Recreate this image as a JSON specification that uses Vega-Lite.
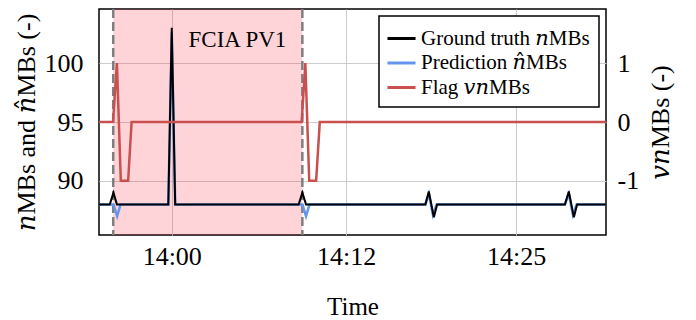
{
  "$schema": "https://vega.github.io/schema/vega-lite/v6.json",
  "width": 507,
  "height": 226,
  "autosize": {"type": "none"},
  "padding": {"left": 99, "top": 9, "right": 90, "bottom": 85},
  "background": "white",
  "datasets": {
    "counts": [
      {"series": "Ground truth 𝑛MBs", "time": "2023-06-01T13:54:23", "value": 88},
      {"series": "Ground truth 𝑛MBs", "time": "2023-06-01T13:55:10", "value": 88},
      {"series": "Ground truth 𝑛MBs", "time": "2023-06-01T13:55:26", "value": 89},
      {"series": "Ground truth 𝑛MBs", "time": "2023-06-01T13:55:41", "value": 88},
      {"series": "Ground truth 𝑛MBs", "time": "2023-06-01T13:59:25", "value": 88},
      {"series": "Ground truth 𝑛MBs", "time": "2023-06-01T13:59:40", "value": 103},
      {"series": "Ground truth 𝑛MBs", "time": "2023-06-01T13:59:55", "value": 88},
      {"series": "Ground truth 𝑛MBs", "time": "2023-06-01T14:08:53", "value": 88},
      {"series": "Ground truth 𝑛MBs", "time": "2023-06-01T14:09:09", "value": 89},
      {"series": "Ground truth 𝑛MBs", "time": "2023-06-01T14:09:25", "value": 88},
      {"series": "Ground truth 𝑛MBs", "time": "2023-06-01T14:18:05", "value": 88},
      {"series": "Ground truth 𝑛MBs", "time": "2023-06-01T14:18:20", "value": 89.1},
      {"series": "Ground truth 𝑛MBs", "time": "2023-06-01T14:18:42", "value": 86.9},
      {"series": "Ground truth 𝑛MBs", "time": "2023-06-01T14:18:56", "value": 88},
      {"series": "Ground truth 𝑛MBs", "time": "2023-06-01T14:28:13", "value": 88},
      {"series": "Ground truth 𝑛MBs", "time": "2023-06-01T14:28:30", "value": 89.1},
      {"series": "Ground truth 𝑛MBs", "time": "2023-06-01T14:28:52", "value": 86.9},
      {"series": "Ground truth 𝑛MBs", "time": "2023-06-01T14:29:06", "value": 88},
      {"series": "Ground truth 𝑛MBs", "time": "2023-06-01T14:31:12", "value": 88},
      {"series": "Prediction 𝑛̂MBs", "time": "2023-06-01T13:54:23", "value": 88},
      {"series": "Prediction 𝑛̂MBs", "time": "2023-06-01T13:55:26", "value": 88},
      {"series": "Prediction 𝑛̂MBs", "time": "2023-06-01T13:55:42", "value": 87},
      {"series": "Prediction 𝑛̂MBs", "time": "2023-06-01T13:55:57", "value": 88},
      {"series": "Prediction 𝑛̂MBs", "time": "2023-06-01T13:59:25", "value": 88},
      {"series": "Prediction 𝑛̂MBs", "time": "2023-06-01T13:59:40", "value": 102.6},
      {"series": "Prediction 𝑛̂MBs", "time": "2023-06-01T13:59:55", "value": 88},
      {"series": "Prediction 𝑛̂MBs", "time": "2023-06-01T14:09:09", "value": 88},
      {"series": "Prediction 𝑛̂MBs", "time": "2023-06-01T14:09:25", "value": 87},
      {"series": "Prediction 𝑛̂MBs", "time": "2023-06-01T14:09:40", "value": 88},
      {"series": "Prediction 𝑛̂MBs", "time": "2023-06-01T14:18:05", "value": 88},
      {"series": "Prediction 𝑛̂MBs", "time": "2023-06-01T14:18:20", "value": 88.9},
      {"series": "Prediction 𝑛̂MBs", "time": "2023-06-01T14:18:38", "value": 87.1},
      {"series": "Prediction 𝑛̂MBs", "time": "2023-06-01T14:18:54", "value": 88},
      {"series": "Prediction 𝑛̂MBs", "time": "2023-06-01T14:28:13", "value": 88},
      {"series": "Prediction 𝑛̂MBs", "time": "2023-06-01T14:28:30", "value": 88.9},
      {"series": "Prediction 𝑛̂MBs", "time": "2023-06-01T14:28:48", "value": 87.1},
      {"series": "Prediction 𝑛̂MBs", "time": "2023-06-01T14:29:04", "value": 88},
      {"series": "Prediction 𝑛̂MBs", "time": "2023-06-01T14:31:12", "value": 88}
    ],
    "flag": [
      {"series": "Flag 𝑣𝑛MBs", "time": "2023-06-01T13:54:23", "value": 0},
      {"series": "Flag 𝑣𝑛MBs", "time": "2023-06-01T13:55:24", "value": 0},
      {"series": "Flag 𝑣𝑛MBs", "time": "2023-06-01T13:55:41", "value": 1},
      {"series": "Flag 𝑣𝑛MBs", "time": "2023-06-01T13:55:58", "value": -1},
      {"series": "Flag 𝑣𝑛MBs", "time": "2023-06-01T13:56:30", "value": -1},
      {"series": "Flag 𝑣𝑛MBs", "time": "2023-06-01T13:56:45", "value": 0},
      {"series": "Flag 𝑣𝑛MBs", "time": "2023-06-01T14:09:06", "value": 0},
      {"series": "Flag 𝑣𝑛MBs", "time": "2023-06-01T14:09:22", "value": 1},
      {"series": "Flag 𝑣𝑛MBs", "time": "2023-06-01T14:09:39", "value": -1},
      {"series": "Flag 𝑣𝑛MBs", "time": "2023-06-01T14:10:09", "value": -1},
      {"series": "Flag 𝑣𝑛MBs", "time": "2023-06-01T14:10:25", "value": 0},
      {"series": "Flag 𝑣𝑛MBs", "time": "2023-06-01T14:31:12", "value": 0}
    ],
    "windows": [
      {"label": "FCIA PV1", "time": "2023-06-01T13:55:25", "time_end": "2023-06-01T14:09:09"}
    ]
  },
  "encoding": {
    "x": {
      "field": "time",
      "type": "temporal",
      "scale": {
        "domain": [
          {"year": 2023, "month": 6, "date": 1, "hours": 13, "minutes": 54, "seconds": 23},
          {"year": 2023, "month": 6, "date": 1, "hours": 14, "minutes": 31, "seconds": 12}
        ],
        "nice": false
      },
      "axis": {
        "title": "Time",
        "titleFontSize": 25,
        "values": [
          {"year": 2023, "month": 6, "date": 1, "hours": 13, "minutes": 59, "seconds": 40},
          {"year": 2023, "month": 6, "date": 1, "hours": 14, "minutes": 12, "seconds": 20},
          {"year": 2023, "month": 6, "date": 1, "hours": 14, "minutes": 24, "seconds": 40}
        ],
        "labelExpr": "timeFormat(time(datum.value) + 30000, '%H:%M')",
        "grid": true,
        "labelPadding": 8,
        "titlePadding": 25
      }
    }
  },
  "layer": [
    {
      "layer": [
        {
          "data": {"name": "windows"},
          "mark": {"type": "rect", "color": "#ff2a3a", "opacity": 0.2},
          "encoding": {"x2": {"field": "time_end"}}
        },
        {
          "data": {"name": "windows"},
          "mark": {"type": "rule", "color": "#7f7f7f", "strokeWidth": 2.5, "strokeDash": [9, 4]},
          "encoding": {}
        },
        {
          "data": {"name": "windows"},
          "mark": {"type": "rule", "color": "#7f7f7f", "strokeWidth": 2.5, "strokeDash": [9, 4]},
          "encoding": {"x": {"field": "time_end", "type": "temporal", "axis": {"title": "Time"}}}
        },
        {
          "data": {"name": "windows"},
          "mark": {"type": "text", "font": "Liberation Serif", "fontSize": 23, "align": "right", "baseline": "alphabetic", "dx": -16, "color": "black"},
          "encoding": {
            "x": {"field": "time_end", "type": "temporal", "axis": {"title": "Time"}},
            "y": {"datum": 101.4, "type": "quantitative"},
            "text": {"field": "label"}
          }
        },
        {
          "data": {"name": "counts"},
          "transform": [{"filter": "indexof(datum.series, 'Prediction') === 0"}],
          "mark": {"type": "line", "strokeWidth": 2.5},
          "encoding": {
            "y": {"field": "value", "type": "quantitative"},
            "color": {
              "field": "series",
              "type": "nominal",
              "scale": {
                "domain": ["Ground truth 𝑛MBs", "Prediction 𝑛̂MBs", "Flag 𝑣𝑛MBs"],
                "range": ["#000000", "#6495ed", "#c8504f"]
              },
              "legend": {"title": null}
            }
          }
        },
        {
          "data": {"name": "counts"},
          "transform": [{"filter": "indexof(datum.series, 'Ground') === 0"}],
          "mark": {"type": "line", "strokeWidth": 2},
          "encoding": {
            "y": {"field": "value", "type": "quantitative"},
            "color": {
              "field": "series",
              "type": "nominal",
              "scale": {
                "domain": ["Ground truth 𝑛MBs", "Prediction 𝑛̂MBs", "Flag 𝑣𝑛MBs"],
                "range": ["#000000", "#6495ed", "#c8504f"]
              },
              "legend": {"title": null}
            }
          }
        }
      ],
      "encoding": {
        "y": {
          "type": "quantitative",
          "scale": {"domain": [85.4, 104.6], "nice": false, "zero": false},
          "axis": {
            "title": "𝑛MBs and 𝑛̂MBs (-)",
            "values": [90, 95, 100],
            "grid": true,
            "labelPadding": 16,
            "titlePadding": 5
          }
        }
      }
    },
    {
      "data": {"name": "flag"},
      "mark": {"type": "line", "strokeWidth": 2.5},
      "encoding": {
        "y": {
          "field": "value",
          "type": "quantitative",
          "scale": {"domain": [-1.92, 1.92], "nice": false, "zero": false},
          "axis": {
            "orient": "right",
            "title": "𝑣𝑛MBs (-)",
            "titleAngle": 270,
            "titleBaseline": "top",
            "values": [-1, 0, 1],
            "labelExpr": "'' + datum.value",
            "grid": false,
            "labelPadding": 11,
            "titlePadding": 9
          }
        },
        "color": {
          "field": "series",
          "type": "nominal",
          "scale": {
            "domain": ["Ground truth 𝑛MBs", "Prediction 𝑛̂MBs", "Flag 𝑣𝑛MBs"],
            "range": ["#000000", "#6495ed", "#c8504f"]
          },
          "legend": {"title": null}
        }
      }
    }
  ],
  "resolve": {"scale": {"y": "independent"}, "axis": {"y": "independent"}},
  "config": {
    "view": {"stroke": "black", "strokeWidth": 1.5},
    "axis": {
      "domain": false,
      "ticks": false,
      "gridColor": "#cccccc",
      "gridWidth": 1,
      "gridOpacity": 1,
      "labelFont": "Liberation Serif, DejaVu Serif",
      "labelFontSize": 26,
      "labelColor": "black",
      "titleFont": "Liberation Serif, DejaVu Serif",
      "titleFontSize": 26,
      "titleFontWeight": "normal",
      "titleColor": "black"
    },
    "legend": {
      "orient": "top-right",
      "offset": 7,
      "symbolType": "M-1.17,0H1.17",
      "symbolStrokeWidth": 3,
      "symbolSize": 576,
      "labelFont": "Liberation Serif, DejaVu Serif",
      "labelFontSize": 21,
      "labelColor": "black",
      "labelLimit": 300,
      "labelOffset": 6,
      "rowPadding": 0.5,
      "padding": 9,
      "strokeColor": "black",
      "strokeWidth": 1.5,
      "fillColor": "white",
      "cornerRadius": 0
    }
  }
}
